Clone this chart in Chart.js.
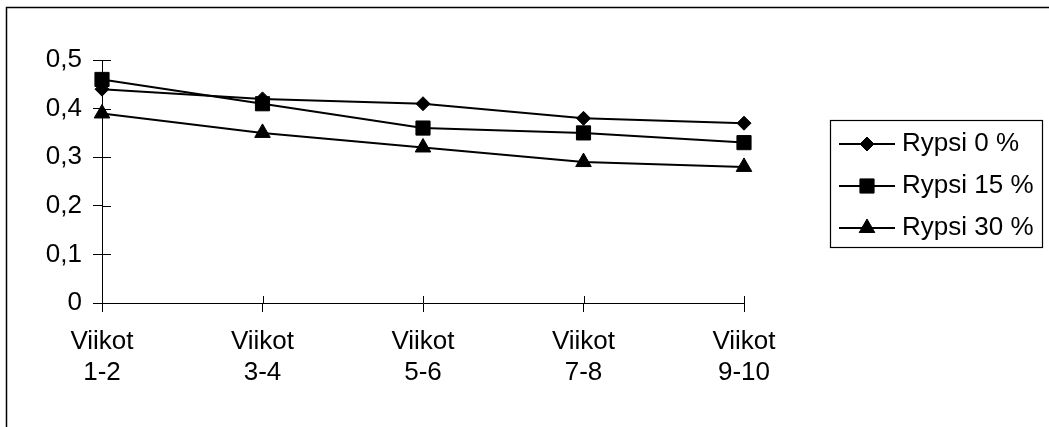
<!DOCTYPE html>
<html>
<head>
<meta charset="utf-8">
<script src="https://cdn.jsdelivr.net/npm/chart.js@4.4.1/dist/chart.umd.min.js"></script>
<style>
  html, body { margin: 0; padding: 0; background: #fff; }
  #wrap { width: 1049px; height: 427px; }
</style>
</head>
<body>
<div id="wrap"><canvas id="c" width="1049" height="427"></canvas></div>
<script>
// Weekly values per rapeseed level
const categories = [['Viikot', '1-2'], ['Viikot', '3-4'], ['Viikot', '5-6'], ['Viikot', '7-8'], ['Viikot', '9-10']];
const seriesNames = ['Rypsi 0 %', 'Rypsi 15 %', 'Rypsi 30 %'];
const rypsi0 = [0.44, 0.42, 0.41, 0.38, 0.37];
const rypsi15 = [0.46, 0.41, 0.36, 0.35, 0.33];
const rypsi30 = [0.39, 0.35, 0.32, 0.29, 0.28];
const yTickLabels = ['0', '0,1', '0,2', '0,3', '0,4', '0,5'];

const FONT = { family: '"Liberation Sans", Arial, sans-serif', size: 26, lineHeight: 1.17 };

// Outer frame around the drawing
const framePlugin = {
  id: 'frame',
  beforeDraw(chart) {
    const ctx = chart.ctx;
    ctx.save();
    ctx.fillStyle = '#fff';
    ctx.fillRect(0, 0, chart.width, chart.height);
    ctx.strokeStyle = '#000';
    ctx.lineWidth = 1.5;
    ctx.beginPath();
    ctx.moveTo(6.5, chart.height + 5);
    ctx.lineTo(6.5, 7.5);
    ctx.lineTo(chart.width + 5, 7.5);
    ctx.stroke();
    ctx.restore();
  }
};

// Tick marks that cross the axis lines (inner half)
const crossTicksPlugin = {
  id: 'crossTicks',
  afterDatasetsDraw(chart) {
    const ctx = chart.ctx;
    const xs = chart.scales.x, ys = chart.scales.y;
    const area = chart.chartArea;
    ctx.save();
    ctx.strokeStyle = '#000';
    ctx.lineWidth = 1;
    ctx.beginPath();
    ys.ticks.forEach((t, i) => {
      const py = Math.round(ys.getPixelForTick(i)) + 0.5;
      ctx.moveTo(area.left, py);
      ctx.lineTo(area.left + 9, py);
    });
    xs.ticks.forEach((t, i) => {
      const px = Math.round(xs.getPixelForTick(i)) + 0.5;
      ctx.moveTo(px, area.bottom);
      ctx.lineTo(px, area.bottom - 7);
    });
    ctx.stroke();
    ctx.restore();
  }
};

// Boxed legend with line + marker samples
const boxLegendPlugin = {
  id: 'boxLegend',
  afterDraw(chart) {
    const ctx = chart.ctx;
    const box = { x: 830.5, y: 120.5, w: 212, h: 127 };
    const rows = [144, 186, 228];
    ctx.save();
    ctx.strokeStyle = '#000';
    ctx.lineWidth = 1.2;
    ctx.strokeRect(box.x, box.y, box.w, box.h);
    chart.data.datasets.forEach((ds, i) => {
      const y = rows[i];
      ctx.strokeStyle = ds.borderColor;
      ctx.lineWidth = ds.borderWidth;
      ctx.beginPath();
      ctx.moveTo(839, y);
      ctx.lineTo(895, y);
      ctx.stroke();
      ctx.fillStyle = ds.pointBackgroundColor;
      ctx.strokeStyle = ds.pointBorderColor;
      ctx.lineWidth = 1;
      Chart.helpers.drawPoint(ctx, { pointStyle: ds.pointStyle, radius: ds.pointRadius, borderWidth: 1, rotation: 0 }, 867, y);
      ctx.fillStyle = '#000';
      ctx.font = FONT.size + 'px ' + FONT.family;
      ctx.textBaseline = 'middle';
      ctx.textAlign = 'left';
      ctx.fillText(ds.label, 902, y);
    });
    ctx.restore();
  }
};

const mkSeries = (label, data, style, r) => ({
  label, data,
  borderColor: '#000', borderWidth: 2,
  pointStyle: style, pointRadius: r,
  pointBackgroundColor: '#000', pointBorderColor: '#000', pointBorderWidth: 1,
  fill: false, tension: 0
});

new Chart(document.getElementById('c'), {
  type: 'line',
  data: {
    labels: categories,
    datasets: [
      mkSeries(seriesNames[0], rypsi0, 'rectRot', 7),
      mkSeries(seriesNames[1], rypsi15, 'rect', 10),
      mkSeries(seriesNames[2], rypsi30, 'triangle', 9)
    ]
  },
  options: {
    responsive: false,
    animation: false,
    events: [],
    layout: { padding: { left: 0, top: 60, right: 305, bottom: 0 } },
    plugins: { legend: { display: false }, tooltip: { enabled: false } },
    scales: {
      x: {
        offset: false,
        grid: { drawOnChartArea: false, drawTicks: true, tickLength: 9, color: '#000', lineWidth: 1 },
        border: { display: true, color: '#000', width: 1 },
        ticks: { color: '#000', font: FONT, padding: 15, maxRotation: 0, autoSkip: false },
        afterFit(s) { s.height = 124; }
      },
      y: {
        min: 0, max: 0.5,
        grid: { drawOnChartArea: false, drawTicks: true, tickLength: 9, color: '#000', lineWidth: 1 },
        border: { display: true, color: '#000', width: 1 },
        ticks: {
          stepSize: 0.1, color: '#000', font: FONT, padding: 11,
          callback: (v, i) => yTickLabels[i]
        },
        afterFit(s) { s.width = 102; }
      }
    }
  },
  plugins: [framePlugin, crossTicksPlugin, boxLegendPlugin]
});
</script>
</body>
</html>
